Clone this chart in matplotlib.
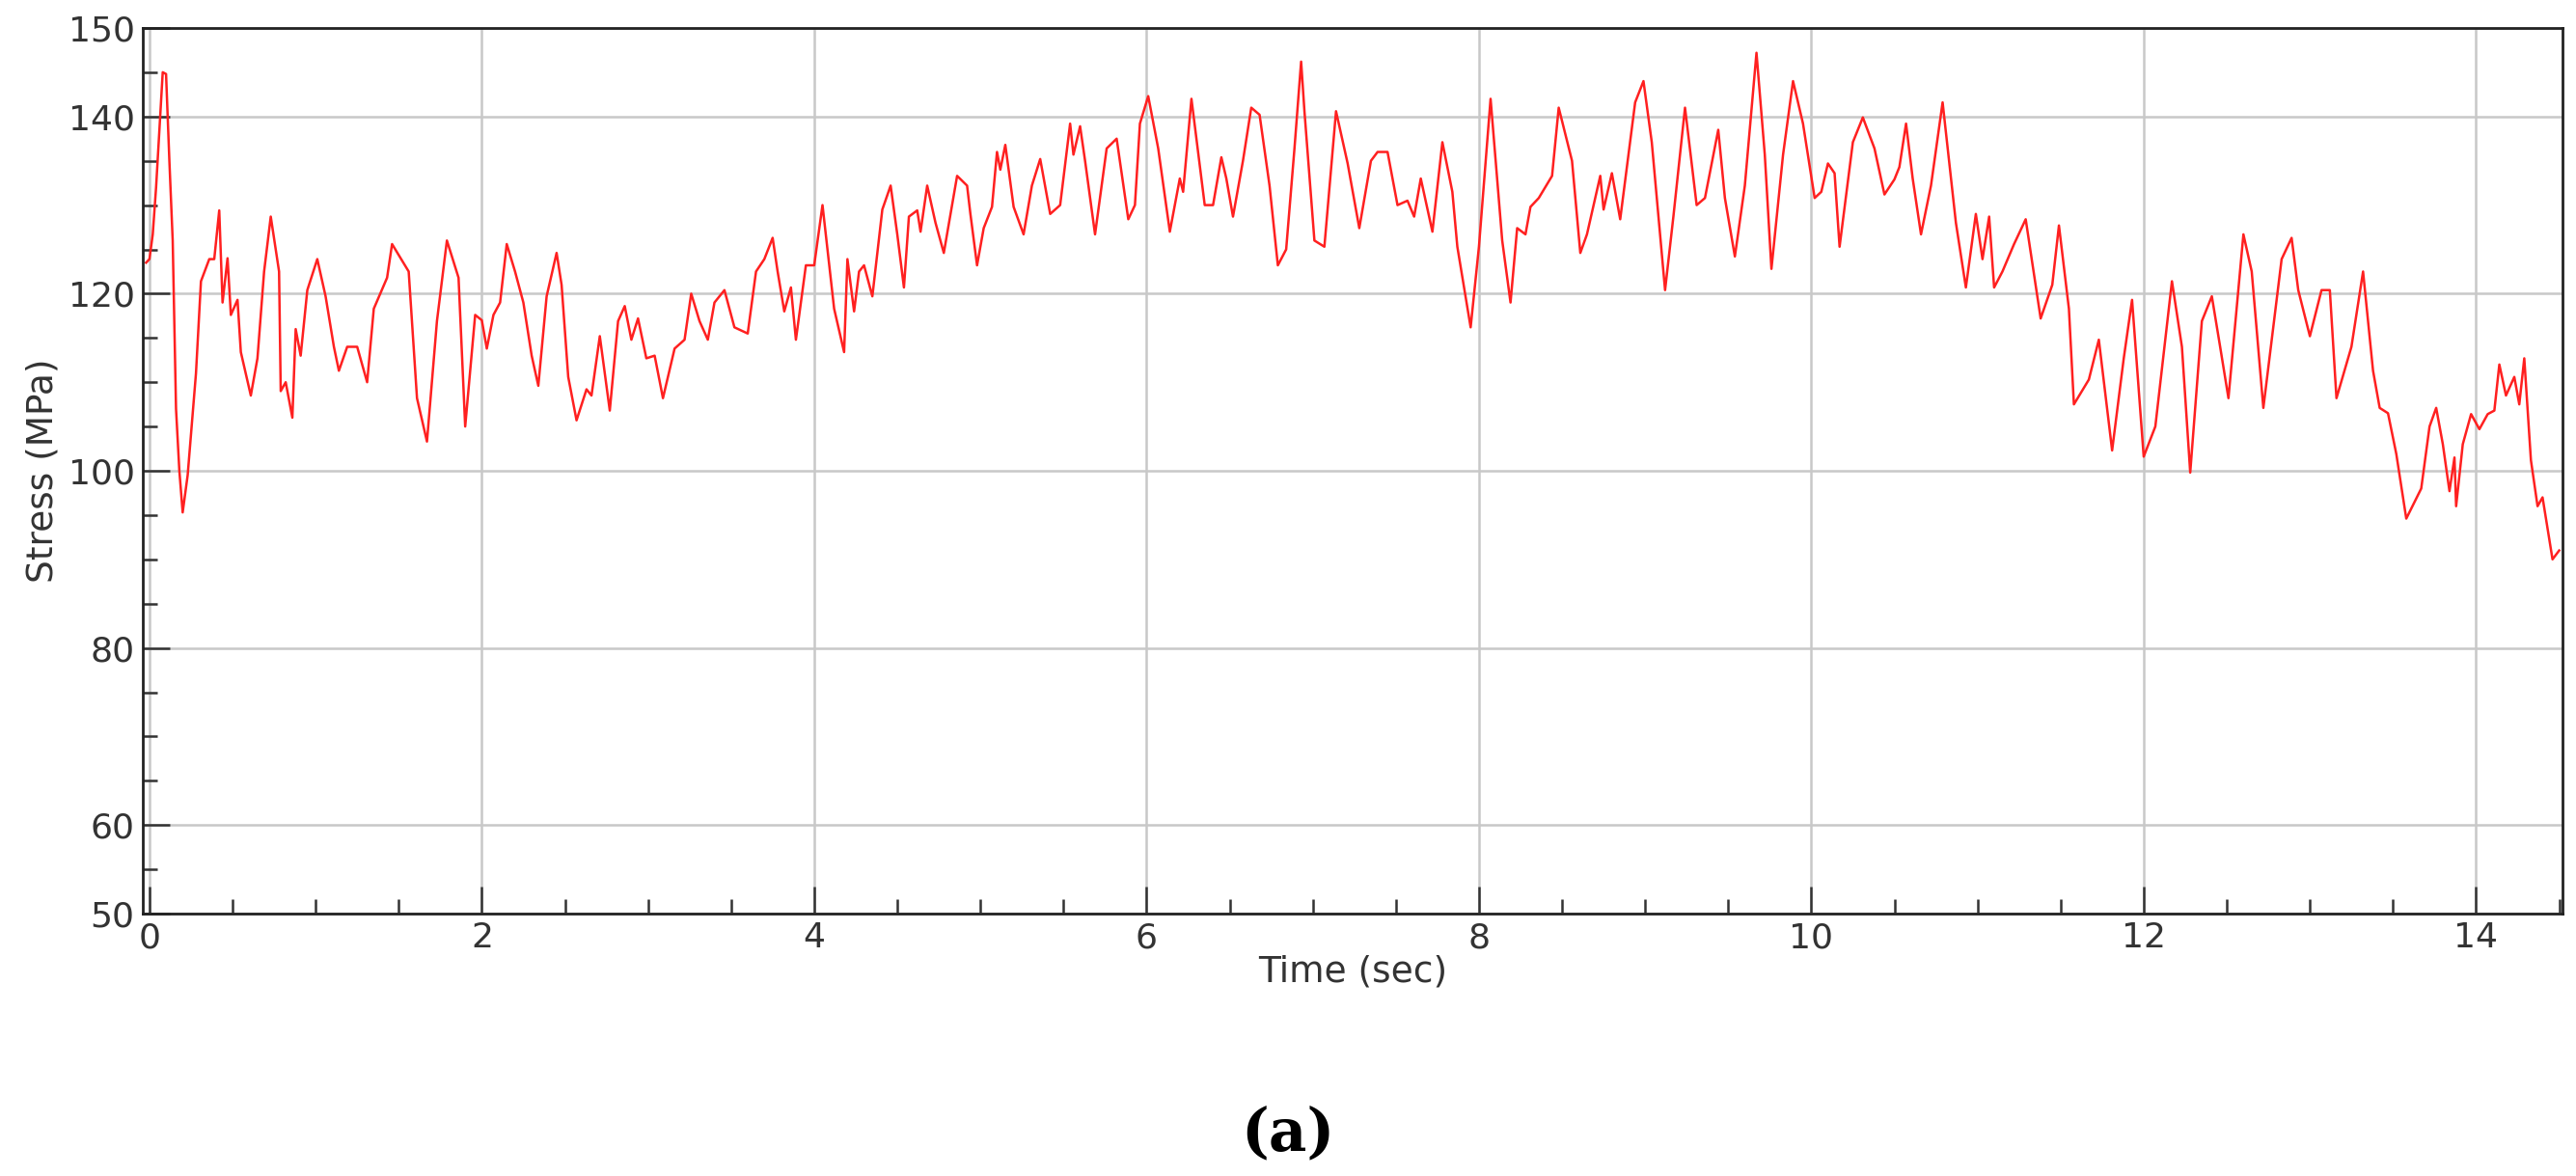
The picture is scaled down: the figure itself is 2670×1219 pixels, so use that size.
import matplotlib
matplotlib.use("Agg")
import matplotlib.pyplot as plt
from matplotlib.ticker import MultipleLocator, FixedLocator

time_s = [-0.02,0.0,0.02,0.04,0.08,0.10,0.12,0.14,0.16,0.18,0.20,0.23,0.28,0.31,0.36,0.39,0.42,0.44,0.47,0.49,0.53,0.55,0.61,0.65,0.69,0.73,0.78,0.79,0.82,0.86,0.88,0.91,0.95,1.01,1.06,1.11,1.14,1.19,1.25,1.31,1.35,1.43,1.46,1.56,1.61,1.67,1.73,1.79,1.86,1.90,1.96,2.00,2.03,2.07,2.11,2.15,2.20,2.25,2.30,2.34,2.39,2.45,2.48,2.52,2.57,2.63,2.66,2.71,2.77,2.82,2.86,2.90,2.94,2.99,3.04,3.09,3.16,3.22,3.26,3.31,3.36,3.40,3.46,3.52,3.60,3.65,3.70,3.75,3.78,3.82,3.86,3.89,3.95,4.00,4.05,4.12,4.18,4.20,4.24,4.27,4.30,4.35,4.41,4.46,4.50,4.54,4.57,4.62,4.64,4.68,4.73,4.78,4.86,4.92,4.94,4.98,5.02,5.07,5.10,5.12,5.15,5.20,5.26,5.31,5.36,5.42,5.48,5.54,5.56,5.60,5.63,5.69,5.76,5.82,5.89,5.93,5.96,6.01,6.07,6.14,6.20,6.22,6.27,6.35,6.40,6.45,6.48,6.52,6.58,6.63,6.68,6.74,6.79,6.84,6.89,6.93,6.95,7.01,7.07,7.14,7.21,7.28,7.35,7.39,7.45,7.51,7.57,7.61,7.65,7.72,7.78,7.84,7.87,7.95,8.00,8.07,8.14,8.19,8.23,8.28,8.31,8.36,8.44,8.48,8.56,8.61,8.65,8.73,8.75,8.80,8.85,8.94,8.99,9.04,9.12,9.17,9.24,9.31,9.36,9.44,9.48,9.54,9.60,9.67,9.72,9.76,9.83,9.89,9.95,10.02,10.06,10.10,10.14,10.17,10.25,10.31,10.38,10.44,10.50,10.53,10.57,10.61,10.66,10.72,10.79,10.87,10.93,10.99,11.03,11.07,11.10,11.15,11.22,11.29,11.38,11.45,11.49,11.55,11.58,11.67,11.73,11.81,11.88,11.93,12.00,12.07,12.17,12.23,12.28,12.35,12.41,12.46,12.51,12.60,12.65,12.72,12.83,12.89,12.93,13.00,13.07,13.12,13.16,13.25,13.32,13.38,13.42,13.47,13.52,13.58,13.67,13.72,13.76,13.80,13.84,13.87,13.88,13.92,13.97,14.02,14.07,14.11,14.14,14.18,14.23,14.26,14.29,14.33,14.37,14.40,14.46,14.50]
stress_mpa = [123.5,123.9,126.7,132.0,145.0,144.8,135.0,126.0,107.0,100.0,95.3,99.5,111.0,121.4,123.9,123.9,129.4,119.0,124.0,117.6,119.3,113.4,108.5,112.7,122.5,128.7,122.5,109.0,110.0,106.0,116.0,113.0,120.4,123.9,119.7,114.0,111.3,114.0,114.0,110.0,118.3,121.8,125.6,122.5,108.2,103.3,116.9,126.0,121.8,105.0,117.6,117.0,113.8,117.6,119.0,125.6,122.5,119.0,113.0,109.6,119.7,124.6,121.0,110.6,105.7,109.2,108.5,115.2,106.8,116.9,118.6,114.8,117.2,112.7,113.0,108.2,113.8,114.8,120.0,116.9,114.8,119.0,120.4,116.2,115.5,122.5,123.9,126.3,122.5,118.0,120.7,114.8,123.2,123.2,130.0,118.3,113.4,123.9,118.0,122.5,123.2,119.7,129.5,132.2,126.7,120.7,128.7,129.4,127.0,132.2,128.0,124.6,133.3,132.2,129.0,123.2,127.4,129.8,136.0,134.0,136.8,129.8,126.7,132.2,135.2,129.0,130.0,139.2,135.7,138.9,135.0,126.7,136.4,137.5,128.4,130.0,139.2,142.3,136.4,127.0,133.0,131.5,142.0,130.0,130.0,135.4,133.0,128.7,135.0,141.0,140.2,132.2,123.2,125.0,136.4,146.2,140.6,126.0,125.3,140.6,134.7,127.4,135.0,136.0,136.0,130.0,130.5,128.7,133.0,127.0,137.1,131.5,125.3,116.2,125.3,142.0,126.0,119.0,127.4,126.7,129.8,130.8,133.3,141.0,135.0,124.6,126.7,133.3,129.5,133.6,128.4,141.6,144.0,137.1,120.4,128.7,141.0,130.0,130.8,138.5,130.8,124.2,132.2,147.2,135.7,122.8,135.7,144.0,139.2,130.8,131.5,134.7,133.6,125.3,137.1,139.9,136.4,131.2,132.9,134.3,139.2,133.0,126.7,132.2,141.6,128.0,120.7,129.0,123.9,128.7,120.7,122.5,125.6,128.4,117.2,121.0,127.7,118.3,107.5,110.3,114.8,102.3,112.7,119.3,101.6,105.0,121.4,114.0,99.8,116.9,119.7,114.0,108.2,126.7,122.5,107.1,123.9,126.3,120.4,115.2,120.4,120.4,108.2,114.0,122.5,111.3,107.1,106.5,101.9,94.6,98.0,105.0,107.1,103.0,97.7,101.5,96.0,103.0,106.4,104.7,106.4,106.8,112.0,108.5,110.6,107.5,112.7,101.2,96.0,97.0,90.0,91.0]

W, H = 2670, 1219
fig = plt.figure(figsize=(W/100, H/100), dpi=100)
ax = fig.add_axes([148/W, 1-947/H, (2656-148)/W, (947-29)/H])
ax.plot(time_s, stress_mpa, color="#ff2020", lw=1.8)
ax.set_xlim(-0.04, 14.52)
ax.set_ylim(50, 150)
ax.xaxis.set_major_locator(MultipleLocator(2))
ax.xaxis.set_minor_locator(MultipleLocator(0.5))
ax.yaxis.set_major_locator(FixedLocator([50, 60, 80, 100, 120, 140, 150]))
ax.yaxis.set_minor_locator(MultipleLocator(5))
ax.grid(True, which="major", color="#c8c8c8", lw=1.8)
ax.tick_params(which="both", direction="in", colors="#333333", labelcolor="#333333",
               labelsize=26, width=1.8)
ax.tick_params(which="major", length=20)
ax.tick_params(which="minor", length=11)
ax.tick_params(axis="x", pad=6)
ax.tick_params(axis="y", pad=6)
for s in ax.spines.values():
    s.set_color("#222222"); s.set_linewidth(2)
ax.set_xlabel("Time (sec)", fontsize=27, color="#333333", labelpad=0)
ax.set_ylabel("Stress (MPa)", fontsize=27, color="#333333", labelpad=6)
fig.text(0.5, 1-1175/H, "(a)", ha="center", va="center", fontsize=44,
         family="DejaVu Serif", weight="bold", color="black")
fig.savefig("out.png", dpi=100, facecolor="white")
